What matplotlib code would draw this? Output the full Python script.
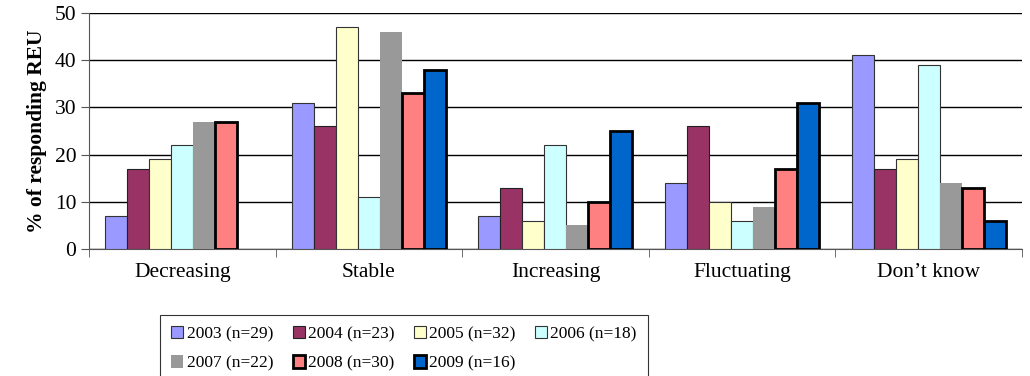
import numpy as np
import matplotlib.pyplot as plt

plt.rcParams['font.family'] = ['Liberation Serif', 'DejaVu Serif']

categories = ["Decreasing", "Stable", "Increasing", "Fluctuating", "Don\u2019t know"]
series_labels = ["2003 (n=29)", "2004 (n=23)", "2005 (n=32)", "2006 (n=18)",
                 "2007 (n=22)", "2008 (n=30)", "2009 (n=16)"]
values = [
    [7, 31, 7, 14, 41],       # 2003
    [17, 26, 13, 26, 17],     # 2004
    [19, 47, 6, 10, 19],      # 2005
    [22, 11, 22, 6, 39],      # 2006
    [27, 46, 5, 9, 14],       # 2007
    [27, 33, 10, 17, 13],     # 2008
    [np.nan, 38, 25, 31, 6],  # 2009 (no answer for Decreasing)
]

colors = ["#9999FF", "#993366", "#FFFFCC", "#CCFFFF", "#999999", "#FF8080", "#0066CC"]
edges = ["#333333", "#222222", "#333333", "#333333", "none", "black", "black"]
widths = [0.8, 0.8, 0.8, 0.8, 0, 2.0, 2.0]

fig = plt.figure(figsize=(10.3, 3.76), dpi=100)
ax = fig.add_axes([0.0864, 0.3378, 0.9058, 0.6276])

n = len(values)
bw = 1 / (n + 1.48)
x = np.arange(len(categories))
handles = []
for i, (vals, c, ec, lw, lab) in enumerate(zip(values, colors, edges, widths, series_labels)):
    pos = x + (i - (n - 1) / 2) * bw
    b = ax.bar(pos, vals, width=bw, color=c, edgecolor=ec, linewidth=lw, label=lab, zorder=3)
    handles.append(b)

ax.set_xlim(-0.5, len(categories) - 0.5)
ax.set_ylim(0, 50)
ax.set_yticks(range(0, 51, 10))
ax.yaxis.grid(True, color="black", linewidth=1.0, zorder=0)
ax.set_axisbelow(True)

# category labels centred, tick marks on the group boundaries
ax.set_xticks(x)
ax.set_xticklabels(categories, fontsize=15.5)
ax.tick_params(axis='x', length=0, pad=10)
ax.set_xticks(np.arange(-0.5, len(categories)), minor=True)
ax.tick_params(axis='x', which='minor', length=6, color="#555555")
ax.tick_params(axis='y', labelsize=15.5, length=6, color="#555555", pad=3)

for s in ["top", "right"]:
    ax.spines[s].set_visible(False)
for s in ["left", "bottom"]:
    ax.spines[s].set_color("#555555")

ax.set_ylabel("% of responding REU", fontsize=15.5, fontweight="bold", labelpad=6)

# legend fills column-wise, so interleave to get the years across the rows
order = [0, 4, 1, 5, 2, 6, 3]
leg = fig.legend([handles[k] for k in order], [series_labels[k] for k in order],
                 loc="upper left", bbox_to_anchor=(160 / 1030, 1 - 315 / 376),
                 borderaxespad=0, ncol=4, fontsize=12.5, frameon=True, fancybox=False,
                 edgecolor="black", handlelength=0.7, handleheight=0.7,
                 handletextpad=0.2, columnspacing=1.1, borderpad=0.65,
                 labelspacing=0.75)
leg.get_frame().set_linewidth(0.8)

fig.savefig("out.png", dpi=100)
